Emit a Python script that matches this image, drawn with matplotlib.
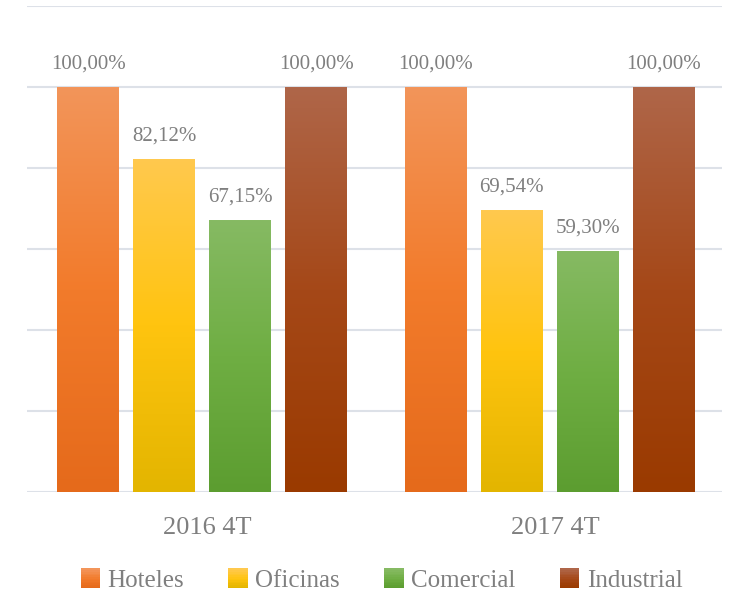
import numpy as np
import matplotlib
matplotlib.use('Agg')
import matplotlib.pyplot as plt
from matplotlib.colors import LinearSegmentedColormap
from matplotlib.patches import Rectangle
from matplotlib.legend_handler import HandlerBase

periodos = ['2016 4T', '2017 4T']
sectores = ['Hoteles', 'Oficinas', 'Comercial', 'Industrial']
valores = {
    'Hoteles': [100.00, 100.00],
    'Oficinas': [82.12, 69.54],
    'Comercial': [67.15, 59.30],
    'Industrial': [100.00, 100.00],
}
# top, middle, bottom colour of each gradient
colores = {
    'Hoteles': ['#F3955A', '#F27B2B', '#E56A1B'],
    'Oficinas': ['#FFC94E', '#FFC40F', '#E3B500'],
    'Comercial': ['#86BA63', '#6FAE43', '#5C9D30'],
    'Industrial': ['#AF6649', '#A54818', '#9A3A00'],
}

plt.rcParams['font.family'] = ['Liberation Serif', 'DejaVu Serif']
gris = '#7F7F7F'

fig = plt.figure(figsize=(7.33, 5.98), dpi=100)
ax = fig.add_axes([0.037, 0.1773, 0.948, 0.8127])

x = np.arange(len(periodos))
ancho = 0.178
paso = 0.219

for i, s in enumerate(sectores):
    cmap = LinearSegmentedColormap.from_list(s, colores[s][::-1])
    pos = x + (i - 1.5) * paso + 0.004
    bars = ax.bar(pos, valores[s], width=ancho, color='none', zorder=3)
    for b, v in zip(bars, valores[s]):
        x0 = b.get_x()
        grad = np.linspace(1, 0, 256).reshape(-1, 1)
        ax.imshow(grad, cmap=cmap, extent=[x0, x0 + ancho, 0, v],
                  aspect='auto', zorder=3, vmin=0, vmax=1)
        ax.annotate(f'{v:.2f}%'.replace('.', ','), (x0 + ancho / 2, v),
                    xytext=(0, 10), textcoords='offset points',
                    ha='center', va='bottom', fontsize=15, color=gris)

ax.set_xlim(-0.5, 1.5)
ax.set_ylim(0, 120)
ax.set_yticks(np.arange(0, 121, 20))
ax.yaxis.grid(True, color='#DDE1E8', linewidth=1.5, zorder=0)
ax.set_axisbelow(True)
ax.tick_params(axis='y', left=False, labelleft=False)
ax.set_xticks(x + 0.02)
ax.set_xticklabels(periodos, fontsize=19, color=gris)
ax.tick_params(axis='x', length=0, pad=18)
for sp in ax.spines.values():
    sp.set_visible(False)


class HandlerGrad(HandlerBase):
    def __init__(self, cols):
        super().__init__()
        self.cols = cols

    def create_artists(self, legend, orig_handle, xdescent, ydescent,
                       width, height, fontsize, trans):
        cmap = LinearSegmentedColormap.from_list('g', self.cols[::-1])
        lado = height * 1.1
        x0 = width - lado
        y0 = (height - lado) / 2
        n = 12
        arts = []
        for k in range(n):
            r = Rectangle((x0, y0 + lado * k / n), lado, lado / n + 0.3,
                          facecolor=cmap(k / (n - 1)), edgecolor='none',
                          transform=trans)
            arts.append(r)
        return arts


handles = [Rectangle((0, 0), 1, 1) for s in sectores]
hmap = {h: HandlerGrad(colores[s]) for h, s in zip(handles, sectores)}
leg = fig.legend(handles, sectores, handler_map=hmap, loc='center',
                 bbox_to_anchor=(0.52, 1 - 581 / 598), ncol=4, frameon=False,
                 fontsize=18, handlelength=0.8, handletextpad=0.3,
                 columnspacing=1.75)
for t in leg.get_texts():
    t.set_color(gris)

fig.savefig('out.png', dpi=100)
